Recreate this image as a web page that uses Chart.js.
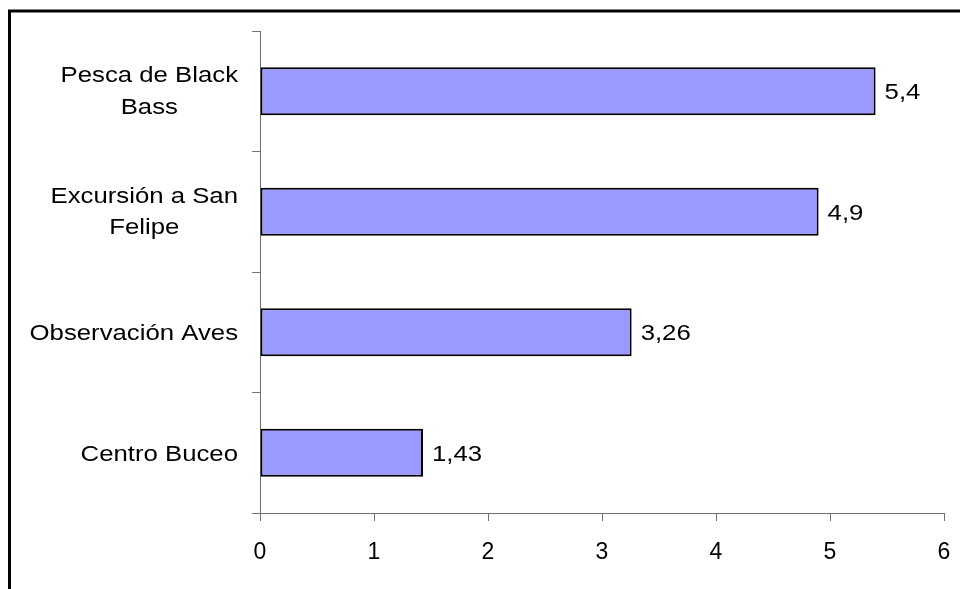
<!DOCTYPE html>
<html>
<head>
<meta charset="utf-8">
<script src="https://cdn.jsdelivr.net/npm/chart.js@4/dist/chart.umd.min.js"></script>
<style>
  html, body { margin: 0; padding: 0; background: #fff; }
  canvas { display: block; }
</style>
</head>
<body>
<canvas id="chart" width="960" height="589"></canvas>
<script>
const categories = [["Pesca de Black", "Bass"], ["Excursión a San", "Felipe"], "Observación Aves", "Centro Buceo"]
const values = [5.4, 4.9, 3.26, 1.43]
const xMin = 0
const xMax = 6

const font = "'Liberation Sans', Arial, sans-serif"
const axisColor = "#707070"
const textSize = 22
const stretch = 1.17 // wide lettering of the category and value texts
const lineGap = 31.6

// Frame around the chart (only the left and top edges fall inside the canvas)
const framePlugin = {
  id: "frame",
  beforeDraw: (chart) => {
    const ctx = chart.ctx
    ctx.save()
    ctx.strokeStyle = "#000"
    ctx.lineWidth = 3
    ctx.beginPath()
    ctx.moveTo(9.5, chart.height + 5)
    ctx.lineTo(9.5, 11)
    ctx.lineTo(chart.width + 5, 11)
    ctx.stroke()
    ctx.restore()
  },
}

// Category names: each block right-aligned to the axis, lines centred within it
const categoryLabels = {
  id: "categoryLabels",
  afterDraw: (chart) => {
    const ctx = chart.ctx
    const yScale = chart.scales.y
    const right = yScale.right - 22
    ctx.save()
    ctx.font = `${textSize}px ${font}`
    ctx.fillStyle = "#000"
    ctx.textAlign = "center"
    ctx.textBaseline = "alphabetic"
    const capHalf = textSize * 0.716 / 2
    categories.forEach((label, i) => {
      const lines = Array.isArray(label) ? label : [label]
      const blockWidth = Math.max(...lines.map((l) => ctx.measureText(l).width)) * stretch
      const cx = right - blockWidth / 2
      const cy = yScale.getPixelForValue(i) - (lines.length > 1 ? 1 : 0)
      lines.forEach((line, j) => {
        const baseline = cy + (j - (lines.length - 1) / 2) * lineGap + capHalf
        ctx.save()
        ctx.translate(cx, baseline)
        ctx.scale(stretch, 1)
        ctx.fillText(line, 0, 0)
        ctx.restore()
      })
    })
    ctx.restore()
  },
}

// Value written just past the end of each bar, with a decimal comma
const valueLabels = {
  id: "valueLabels",
  afterDatasetsDraw: (chart) => {
    const ctx = chart.ctx
    const meta = chart.getDatasetMeta(0)
    ctx.save()
    ctx.font = `${textSize}px ${font}`
    ctx.fillStyle = "#000"
    ctx.textAlign = "left"
    ctx.textBaseline = "alphabetic"
    meta.data.forEach((bar, i) => {
      const text = String(values[i]).replace(".", ",")
      ctx.save()
      ctx.translate(bar.x + 9, bar.y + textSize * 0.716 / 2)
      ctx.scale(stretch, 1)
      ctx.fillText(text, 0, 0)
      ctx.restore()
    })
    ctx.restore()
  },
}

new Chart(document.getElementById("chart").getContext("2d"), {
  type: "bar",
  data: {
    labels: categories,
    datasets: [
      {
        data: values,
        backgroundColor: "#9999FF",
        borderColor: "#000",
        borderWidth: 2,
        borderSkipped: false,
        barPercentage: 0.4,
        categoryPercentage: 1,
      },
    ],
  },
  options: {
    indexAxis: "y",
    responsive: false,
    animation: false,
    layout: {
      padding: { top: 31, right: 16, left: 0, bottom: 0 },
    },
    plugins: {
      legend: { display: false },
      title: { display: false },
      tooltip: { enabled: false },
    },
    scales: {
      x: {
        min: xMin,
        max: xMax,
        ticks: {
          stepSize: 1,
          color: "#000",
          padding: 18,
          font: { family: font, size: 23 },
        },
        grid: {
          drawOnChartArea: false,
          drawTicks: true,
          tickLength: 8,
          color: axisColor,
        },
        border: { display: true, color: axisColor, width: 1 },
        afterFit: (scale) => {
          scale.height = 76
          scale.paddingLeft = 0
          scale.paddingRight = 0
        },
      },
      y: {
        ticks: { display: false },
        grid: {
          drawOnChartArea: false,
          drawTicks: true,
          tickLength: 8,
          color: axisColor,
        },
        border: { display: true, color: axisColor, width: 1 },
        afterFit: (scale) => {
          scale.width = 260
        },
      },
    },
  },
  plugins: [framePlugin, categoryLabels, valueLabels],
})
</script>
</body>
</html>
